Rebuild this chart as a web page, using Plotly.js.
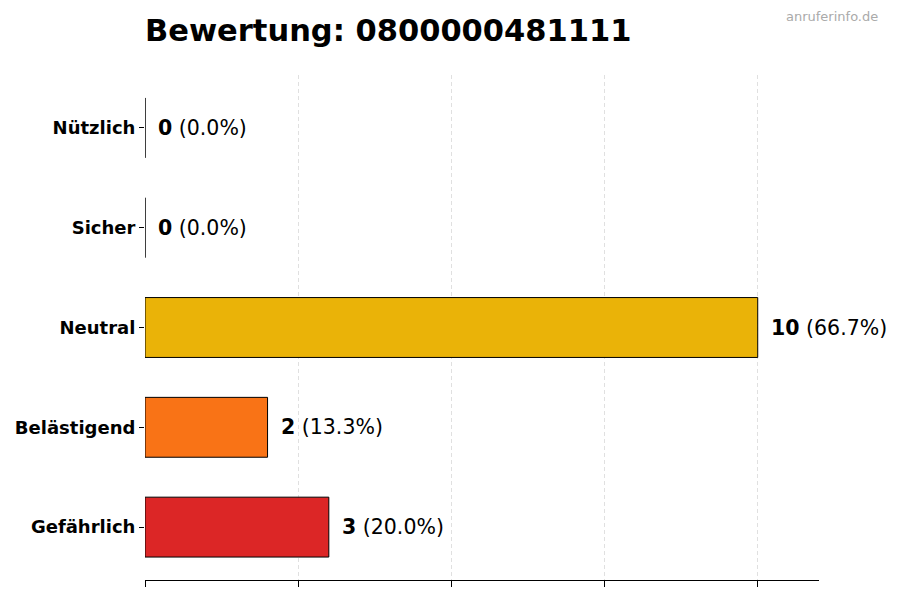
<!DOCTYPE html>
<html>
<head>
<meta charset="utf-8">
<script src="https://cdn.plot.ly/plotly-3.0.1.min.js"></script>
<style>
  html, body { margin: 0; padding: 0; background: #fff; }
  #chart { width: 900px; height: 600px; }
</style>
</head>
<body>
<div id="chart"></div>
<script>
// bottom to top, as plotted
const categories = ["Gefährlich", "Belästigend", "Neutral", "Sicher", "Nützlich"];
const counts = [3, 2, 10, 0, 0];
const barColors = ["#dc2626", "#f97316", "#eab308", "#3b82f6", "#22c55e"];
const xTicks = [0, 2.5, 5, 7.5, 10];

const total = counts.reduce((a, b) => a + b, 0);
const font = "DejaVu Sans, sans-serif";

const annotations = categories.map((cat, i) => ({
  x: counts[i],
  y: cat,
  xref: "x",
  yref: "y",
  xanchor: "left",
  xshift: 11,
  showarrow: false,
  text: `<b>${counts[i]}</b> (${((counts[i] / total) * 100).toFixed(1)}%)`,
  font: { family: font, size: 20.5, color: "#000" },
}));

annotations.push({
  xref: "paper",
  yref: "paper",
  x: 1.091,
  y: 1.115,
  xanchor: "right",
  yanchor: "middle",
  showarrow: false,
  text: "anruferinfo.de",
  font: { family: font, size: 13, color: "#aaa" },
});

Plotly.newPlot(
  "chart",
  [
    {
      type: "bar",
      orientation: "h",
      y: categories,
      x: counts,
      width: 0.6,
      marker: { color: barColors, line: { color: "#000", width: 1 } },
      hoverinfo: "none",
    },
  ],
  {
    width: 900,
    height: 600,
    margin: { l: 145, r: 81, t: 75, b: 20 },
    paper_bgcolor: "#fff",
    plot_bgcolor: "#fff",
    showlegend: false,
    font: { family: font, color: "#000" },
    title: {
      text: "<b>Bewertung: 0800000481111</b>",
      x: 145 / 900,
      xanchor: "left",
      y: 0.95,
      yanchor: "middle",
      font: { family: font, size: 30.5, color: "#000" },
    },
    xaxis: {
      range: [0, 11],
      tickvals: xTicks,
      showticklabels: false,
      ticks: "outside",
      ticklen: 6,
      tickcolor: "#000",
      showline: true,
      linecolor: "#000",
      linewidth: 1,
      showgrid: true,
      gridcolor: "#e0e0e0",
      griddash: "4px,3px",
      gridwidth: 1,
      zeroline: false,
      fixedrange: true,
    },
    yaxis: {
      type: "category",
      range: [-0.53, 4.53],
      ticks: "outside",
      ticklen: 5,
      tickcolor: "#000",
      showline: false,
      showgrid: false,
      zeroline: false,
      tickfont: { family: font, size: 18, color: "#000", weight: "bold" },
      fixedrange: true,
    },
    annotations: annotations,
  },
  { staticPlot: true }
);
</script>
</body>
</html>
